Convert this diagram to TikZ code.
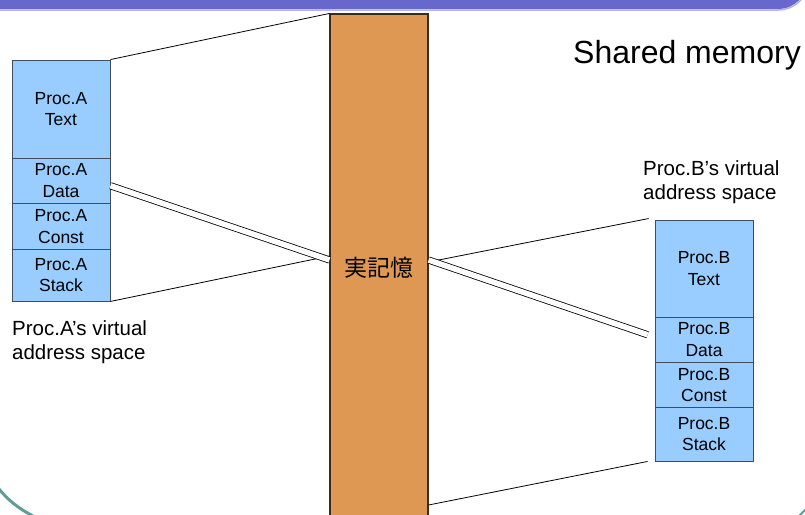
\documentclass[tikz,border=0pt]{standalone}
\usepackage{fontspec}
\setmainfont{Liberation Sans}
\newfontfamily\cjk{Noto Sans CJK JP}
\usetikzlibrary{calc}
\definecolor{segblue}{RGB}{153,204,255}
\definecolor{segedge}{RGB}{64,76,96}
\definecolor{memfill}{RGB}{222,152,84}
\definecolor{memedge}{RGB}{60,42,26}
\definecolor{barfill}{RGB}{104,104,204}
\definecolor{barline}{RGB}{180,180,230}
\definecolor{frameteal}{RGB}{96,156,152}
\tikzset{
  seg/.style={draw=segedge, line width=0.9pt, fill=segblue, minimum width=98pt,
    inner sep=0pt, align=center, font=\fontsize{17.5}{21.5}\selectfont},
  mem/.style={draw=memedge, line width=1.1pt, fill=memfill, minimum width=98pt,
    minimum height=508pt, inner sep=0pt, font=\cjk\fontsize{23}{27}\selectfont},
  link/.style={draw=black, line width=0.8pt},
  twin/.style={draw=black, line width=0.8pt, double=white, double distance=5.5pt},
  note/.style={inner sep=0pt, align=left, font=\fontsize{20.5}{24.5}\selectfont},
}
\newcommand{\lowered}[1]{\raisebox{-2pt}{\parbox{90pt}{\centering #1}}}
\begin{document}
\begin{tikzpicture}[x=1pt, y=-1pt]
\useasboundingbox (0,0) rectangle (805,514);
\clip (0,0) rectangle (805,514);
\fill[white] (0,0) rectangle (805,514);

% title bar of the slide
\draw[barline, line width=1.5pt] (-5,-30) -- (-5,10) -- (778,10) arc[start angle=90, end angle=0, radius=31] -- (809,-30);
\fill[barfill] (-5,-30) -- (-5,9) -- (778,9) arc[start angle=90, end angle=0, radius=30] -- (808,-30) -- cycle;

% slide frame corners
\draw[frameteal, line width=3pt] (-1,489) .. controls (9,501) and (18,508) .. (33,516);
\draw[frameteal, line width=2pt] (799,516) .. controls (802,513) and (804,511) .. (806,509);

% physical memory
\node[mem] (mem) at (379,268) {実記憶};

% process A segments
\node[seg, minimum height=98pt]   (at) at (61,109)    {\lowered{Proc.A\\Text}};
\node[seg, minimum height=45.5pt] (ad) at (61,180.75) {\lowered{Proc.A\\Data}};
\node[seg, minimum height=46pt]   (ac) at (61,226.5)  {\lowered{Proc.A\\Const}};
\node[seg, minimum height=51.5pt] (as) at (61,275.25) {\lowered{Proc.A\\Stack}};

% process B segments
\node[seg, minimum height=97pt]   (bt) at (704,268.5)  {\lowered{Proc.B\\Text}};
\node[seg, minimum height=45.5pt] (bd) at (704,339.75) {\lowered{Proc.B\\Data}};
\node[seg, minimum height=45pt]   (bc) at (704,385)    {\lowered{Proc.B\\Const}};
\node[seg, minimum height=53.5pt] (bs) at (704,434.25) {\lowered{Proc.B\\Stack}};

% labels
\node[anchor=north east, inner sep=0pt, font=\fontsize{32}{37}\selectfont] (shared) at (801,40) {Shared memory};
\node[note, anchor=north west] (alabel) at (12,320) {Proc.A’s virtual\\address space};
\node[note, anchor=north west] (blabel) at (643,160) {Proc.B’s virtual\\address space};

% mappings of process A
\draw[link] (at.north east) -- (mem.north west);
\draw[link] (as.south east) -- ($(mem.west)+(0,-12)$);
\draw[twin] ($(ad.east)+(0,5)$) -- ($(mem.west)+(0,-8)$);

% mappings of process B
\draw[link] ($(mem.east)+(0,-6)$) -- ($(bt.north west)+(-6,-1)$);
\draw[twin] ($(mem.east)+(0,-8)$) -- ($(bd.west)+(-7,-5)$);
\draw[link] ($(mem.east)+(0,237)$) -- ($(bs.south west)+(-7,0)$);
\end{tikzpicture}
\end{document}
